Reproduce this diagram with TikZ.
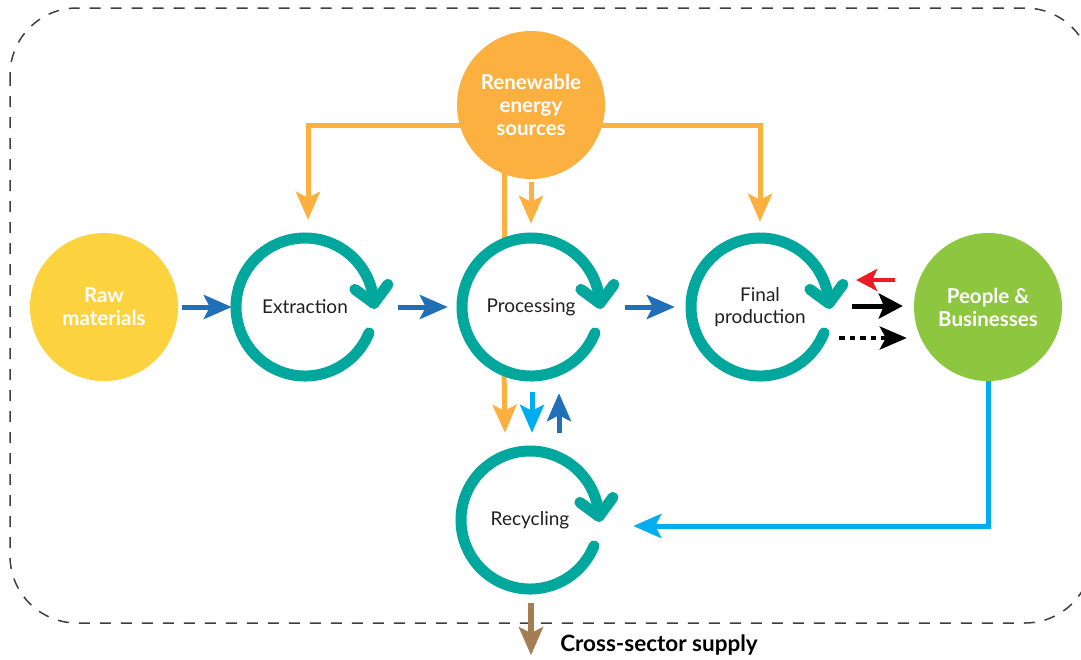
\documentclass[tikz,border=0pt]{standalone}
\usepackage{fontspec}
\setmainfont{Lato}
\usetikzlibrary{arrows.meta,calc}
\definecolor{ringc}{HTML}{00A79D}
\definecolor{bluec}{HTML}{1F70B8}
\definecolor{cyanc}{HTML}{00AEEF}
\definecolor{orangec}{HTML}{FBB040}
\definecolor{yellowc}{HTML}{FDD23F}
\definecolor{greenc}{HTML}{8DC63F}
\definecolor{redc}{HTML}{ED1C24}
\definecolor{brownc}{HTML}{A67C52}
\definecolor{dashc}{HTML}{3F3F3F}
\definecolor{textc}{HTML}{231F20}
\pgfdeclarelayer{background}
\pgfsetlayers{background,main}
\tikzset{
  blob/.style={circle, minimum size=148pt, inner sep=0pt, text=white, align=center,
    font=\bfseries\fontsize{20.5}{23}\selectfont},
  procnode/.style={circle, minimum size=150pt, inner sep=0pt, text=textc, align=center,
    font=\fontsize{19}{22.5}\selectfont},
  ring/.style={draw=ringc, line width=11pt, line cap=round, line join=round},
  cyc/.pic={
    \draw[ring] (22:69) arc[start angle=22, end angle=357, radius=69];
    \draw[ring] ($(357:69)+(-19,-14)$) -- (357:69) -- ($(357:69)+(14,-19)$);
  },
  bigtip/.style={-{Stealth[length=28pt, width=24pt, inset=6pt]}},
  bluearrow/.style={draw=bluec, line width=5pt, bigtip},
  orangeline/.style={draw=orangec, line width=5pt},
  orangearrow/.style={orangeline, bigtip},
  dashbox/.style={draw=dashc, line width=1.5pt, dash pattern=on 11pt off 10pt, rounded corners=67pt},
}
\begin{document}
\begin{tikzpicture}[x=1pt, y=-1pt]
\useasboundingbox (0,0) rectangle (1081,659);
\draw[dashbox] (10,8) rectangle (1092,623);

\node[blob, fill=yellowc] (raw) at (104,307) {Raw\\materials};
\node[blob, fill=orangec] (ren) at (531,105) {Renewable\\energy\\sources};
\node[blob, fill=greenc] (ppl) at (988,307) {People \&\\Businesses};

\node[procnode] (ext) at (305,307) {Extraction};
\node[procnode] (proc) at (531,307) {Processing};
\node[procnode] (fin) at (760,307) {Final\\production};
\node[procnode] (rec) at (530,520) {Recycling};

\pic at (ext.center) {cyc};
\pic at (proc.center) {cyc};
\pic at (fin.center) {cyc};
\pic at (rec.center) {cyc};

\node[font=\bfseries\fontsize{22.5}{26}\selectfont, text=black] (cs) at (659,645) {Cross-sector supply};

% main flow
\draw[bluearrow] ($(raw.east)+(4,0)$) -- ($(ext.west)+(2,0)$);
\draw[bluearrow] ($(ext.east)+(18,0)$) -- ($(proc.west)+(-8,0)$);
\draw[bluearrow] ($(proc.east)+(19,0)$) -- ($(fin.west)+(-10,0)$);

% final production <-> people
\draw[draw=redc, line width=4pt, -{Stealth[length=21pt, width=22pt, inset=5pt]}]
  ($(ppl.west)+(-19,-27)$) -- ($(fin.east)+(21,-27)$);
\draw[draw=black, line width=5pt, -{Stealth[length=24pt, width=25pt, inset=5pt]}]
  ($(fin.east)+(17,-1)$) -- ($(ppl.west)+(-11,-1)$);
\draw[draw=black, line width=4pt, dash pattern=on 5.5pt off 5pt, -{Stealth[length=27pt, width=23pt, inset=6pt, sep=0pt]}]
  ($(fin.east)+(4,31)$) -- ($(ppl.west)+(-7,31)$);

\begin{pgfonlayer}{background}
% renewable energy feeds
\draw[orangearrow] ($(ren)+(-30,20)$) -| ($(ext.north)+(3,-12)$);
\draw[orangearrow] ($(ren)+(30,20)$) -| ($(fin.north)+(0,-10)$);
\draw[orangearrow] ($(ren.south)+(0,3)$) -- ($(proc.north)+(0,-8)$);
\draw[orangeline] ($(ren)+(-27,50)$) -- ($(proc)+(-27,-60)$);
\draw[orangearrow] ($(proc)+(-27,60)$) -- ($(rec.north)+(-25,-12)$);
\end{pgfonlayer}

% processing <-> recycling
\draw[draw=cyanc, line width=5pt, bigtip] ($(proc.south)+(1,10)$) -- ($(rec.north)+(2,-12)$);
\draw[draw=bluec, line width=5pt, bigtip] ($(rec.north)+(29,-12)$) -- ($(proc.south)+(28,11)$);

% people -> recycling
\draw[draw=cyanc, line width=5pt, bigtip] (ppl.south) |- ($(rec.east)+(28,6)$);

% cross-sector supply
\draw[draw=brownc, line width=6pt, -{Stealth[length=28pt, width=24pt, inset=6pt]}]
  ($(rec.south)+(1,8)$) -- ($(rec.south)+(1,60)$);
\end{tikzpicture}
\end{document}
